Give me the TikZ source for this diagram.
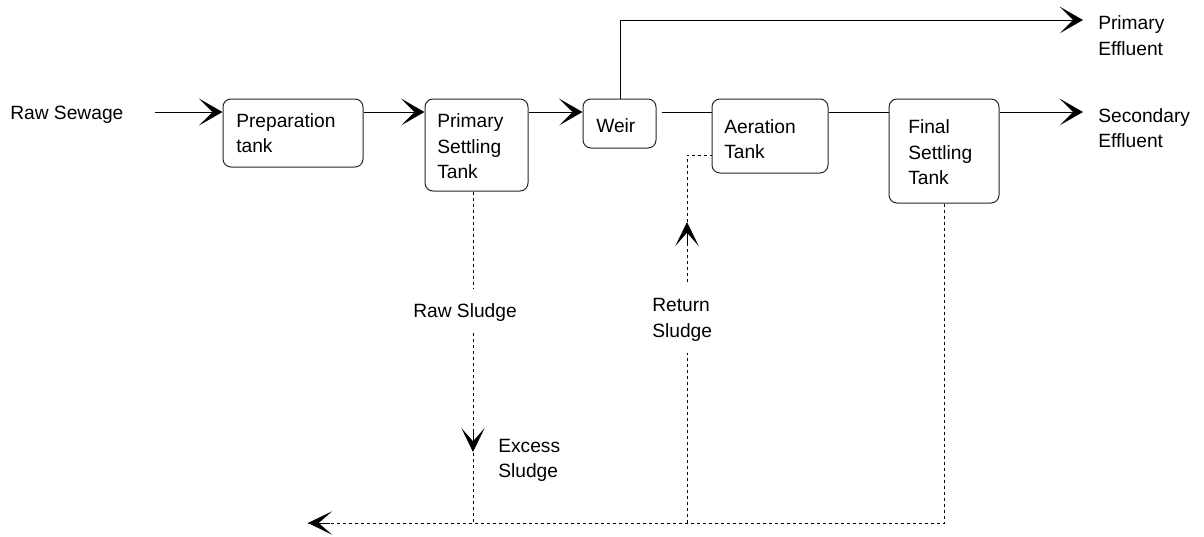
\documentclass[tikz,border=0pt]{standalone}
\usepackage{fontspec}
\setmainfont{Liberation Sans}
\usetikzlibrary{arrows.meta}
\begin{document}
\begin{tikzpicture}[x=0.75pt,y=-0.75pt,
  box/.style={draw=black!85, line width=0.75pt, rounded corners=6pt, inner sep=0pt},
  txt/.style={font=\fontsize{14.4}{19.5}\selectfont, inner sep=0pt, anchor=base west},
  flow/.style={line width=0.75pt, -{Stealth[length=17.5pt,width=20pt,inset=10pt]}},
  plain/.style={line width=0.75pt},
  sludge/.style={line width=0.6pt, dash pattern=on 2.25pt off 2.25pt},
  tipar/.style={line width=0.6pt, -{Stealth[length=18pt,width=17.5pt,inset=10pt]}}
]
\useasboundingbox (0,0) rectangle (1204,536);

% boxes
\node[box, minimum width=105pt,   minimum height=51pt]    (prep) at (293,133)     {};
\node[box, minimum width=77.25pt, minimum height=69pt]    (pst)  at (476.5,145)   {};
\node[box, minimum width=54.75pt, minimum height=36.75pt] (weir) at (619.5,123.5) {};
\node[box, minimum width=87pt,    minimum height=55.5pt]  (aer)  at (770,136)     {};
\node[box, minimum width=82.5pt,  minimum height=78pt]    (fin)  at (944,151)     {};

% box texts
\node[txt] (tprep1) at (236,127) {Preparation};
\node[txt] (tprep2) at (236,152) {tank};
\node[txt] (tpst1) at (437,127) {Primary};
\node[txt] (tpst2) at (437,153) {Settling};
\node[txt] (tpst3) at (437,178) {Tank};
\node[txt] (tweir) at (596,132) {Weir};
\node[txt] (taer1) at (724,133) {Aeration};
\node[txt] (taer2) at (724,158) {Tank};
\node[txt] (tfin1) at (908,133) {Final};
\node[txt] (tfin2) at (908,159) {Settling};
\node[txt] (tfin3) at (908,184) {Tank};

% free labels
\node[txt] (raw) at (10,119) {Raw Sewage};
\node[txt] (pe1) at (1098,29) {Primary};
\node[txt] (pe2) at (1098,55) {Effluent};
\node[txt] (se1) at (1098,122) {Secondary};
\node[txt] (se2) at (1098,147) {Effluent};
\node[txt] (rs) at (413,317) {Raw Sludge};
\node[txt] (ret1) at (652,311) {Return};
\node[txt] (ret2) at (652,337) {Sludge};
\node[txt] (ex1) at (498,452) {Excess};
\node[txt] (ex2) at (498,477) {Sludge};

% main flow
\coordinate (in) at (155,112);
\coordinate (w2) at (662,112);
\coordinate (secout) at (1083,112);
\coordinate (primtop) at (620,20);
\coordinate (primout) at (1083,20);
\draw[flow] (in) -- (prep.west |- in);
\draw[flow] (prep.east |- in) -- (pst.west |- in);
\draw[flow] (pst.east |- in) -- (weir.west |- in);
\draw[plain] (w2) -- (aer.west |- in);
\draw[plain] (aer.east |- in) -- (fin.west |- in);
\draw[flow] (fin.east |- in) -- (secout);
\draw[flow] (weir.north -| primtop) -- (primtop) -- (primout);

% sludge lines
\coordinate (psa) at (473,288);
\coordinate (psb) at (473,333);
\coordinate (psc) at (473,523);
\coordinate (fb) at (944,523);
\coordinate (outl) at (308,523);
\coordinate (ra) at (687,155);
\coordinate (rb) at (687,282);
\coordinate (rc) at (687,353);
\coordinate (rd) at (687,523);
\draw[sludge] (pst.south -| psa) -- (psa);
\draw[sludge] (psb) -- (psc);
\draw[sludge] (fin.south) -- (fb) -- (outl);
\draw[sludge] (rd) -- (rc);
\draw[sludge] (rb) -- (ra) -- (aer.west |- ra);

% mid arrow tips
\coordinate (etail) at (473,430);
\coordinate (etip) at (473,452);
\draw[tipar] (etail) -- (etip);
\coordinate (rtail) at (687,244);
\coordinate (rtip) at (687,222);
\draw[tipar] (rtail) -- (rtip);
\coordinate (otail) at (330,523);
\draw[tipar] (otail) -- (outl);
\end{tikzpicture}
\end{document}
